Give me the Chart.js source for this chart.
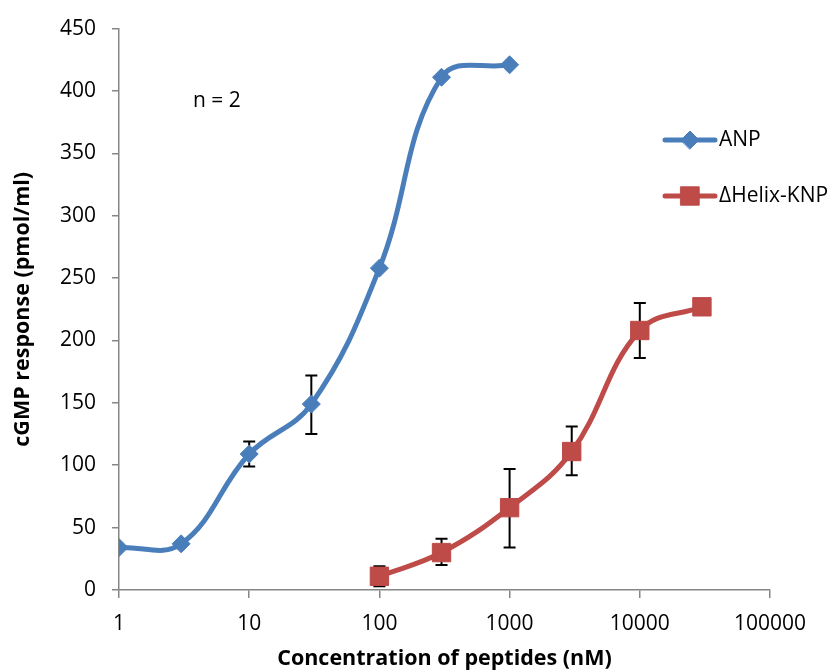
<!DOCTYPE html>
<html>
<head>
<meta charset="utf-8">
<script src="https://cdn.jsdelivr.net/npm/chart.js@4/dist/chart.umd.min.js"></script>
<style>
  body { margin: 0; background: #fff; }
  canvas { display: block; }
</style>
</head>
<body>
<canvas id="chart" width="835" height="672"></canvas>
<script>
var FONT = "'Open Sans', Lato, sans-serif";

// ANP
var anpConc = [1, 3, 10, 30, 100, 300, 1000];
var anpMean = [34, 37, 109, 149, 258, 411, 421];
var anpLow  = [null, null, 99, 125, null, null, null];
var anpHigh = [null, null, 119, 172, null, null, null];

// ΔHelix-KNP
var knpConc = [100, 300, 1000, 3000, 10000, 30000];
var knpMean = [11, 30, 66, 111, 208, 227];
var knpLow  = [3, 20, 34, 92, 186, null];
var knpHigh = [19, 41, 97, 131, 230, null];

var xTickValues = [1, 10, 100, 1000, 10000, 100000];

function toPoints(xs, ys) {
    return xs.map(function (x, i) { return { x: x, y: ys[i] }; });
}

var errorBars = [
    { low: anpLow, high: anpHigh },
    { low: knpLow, high: knpHigh }
];

var errorBarPlugin = {
    id: 'errorBars',
    beforeDatasetsDraw: function (chart) {
        var ctx = chart.ctx;
        var xs = chart.scales.x, ys = chart.scales.y;
        ctx.save();
        ctx.strokeStyle = '#000';
        ctx.lineWidth = 2;
        chart.data.datasets.forEach(function (ds, di) {
            var eb = errorBars[di];
            ds.data.forEach(function (p, i) {
                if (eb.low[i] == null) return;
                var px = xs.getPixelForValue(p.x);
                var y1 = ys.getPixelForValue(eb.low[i]);
                var y2 = ys.getPixelForValue(eb.high[i]);
                ctx.beginPath();
                ctx.moveTo(px, y1); ctx.lineTo(px, y2);
                ctx.moveTo(px - 6, y1); ctx.lineTo(px + 6, y1);
                ctx.moveTo(px - 6, y2); ctx.lineTo(px + 6, y2);
                ctx.stroke();
            });
        });
        ctx.restore();
    }
};

var legendPlugin = {
    id: 'sideLegend',
    afterDraw: function (chart) {
        var ctx = chart.ctx;
        ctx.save();
        // n = 2 note
        ctx.fillStyle = '#000';
        ctx.font = '21px ' + FONT;
        ctx.textBaseline = 'middle';
        ctx.textAlign = 'left';
        ctx.fillText('n = 2', 193, 101);

        var rows = [140, 196];
        chart.data.datasets.forEach(function (ds, i) {
            var y = rows[i];
            ctx.strokeStyle = ds.borderColor;
            ctx.lineWidth = 5;
            ctx.lineCap = 'round';
            ctx.beginPath();
            ctx.moveTo(665, y); ctx.lineTo(715, y);
            ctx.stroke();
            ctx.fillStyle = ds.backgroundColor;
            ctx.lineWidth = 1;
            Chart.helpers.drawPoint(ctx, {
                pointStyle: ds.pointStyle,
                radius: ds.pointRadius,
                borderWidth: 1
            }, 690, y);
            ctx.fillStyle = '#000';
            ctx.font = '21px ' + FONT;
            ctx.fillText(ds.label, 719, y);
        });
        ctx.restore();
    }
};

var ctx = document.querySelector('#chart').getContext('2d');
var chart = new Chart(ctx, {
    type: 'line',
    data: {
        datasets: [{
            label: 'ANP',
            data: toPoints(anpConc, anpMean),
            borderColor: '#4A7EBB',
            backgroundColor: '#4A7EBB',
            borderWidth: 5,
            pointStyle: 'rectRot',
            pointRadius: 9,
            pointBorderWidth: 1,
            tension: 0.4,
            fill: false
        }, {
            label: 'ΔHelix-KNP',
            data: toPoints(knpConc, knpMean),
            borderColor: '#BE4B48',
            backgroundColor: '#BE4B48',
            borderWidth: 5,
            pointStyle: 'rect',
            pointRadius: 13,
            pointBorderWidth: 1,
            tension: 0.4,
            fill: false
        }]
    },
    options: {
        responsive: false,
        animation: false,
        layout: { padding: { left: 10, right: 65, top: 27, bottom: 0 } },
        plugins: {
            legend: { display: false },
            tooltip: { enabled: false }
        },
        scales: {
            x: {
                type: 'logarithmic',
                min: 1,
                max: 100000,
                afterBuildTicks: function (scale) {
                    scale.ticks = xTickValues.map(function (v) { return { value: v }; });
                },
                afterFit: function (scale) { scale.height = 82; },
                grid: { display: true, drawOnChartArea: false, drawTicks: true, tickLength: 8, color: '#868686', lineWidth: 1.5 },
                border: { color: '#868686', width: 1.5 },
                ticks: {
                    color: '#000',
                    font: { family: FONT, size: 21 },
                    padding: 13,
                    maxRotation: 0,
                    autoSkip: false,
                    callback: function (v) { return String(v); }
                },
                title: {
                    display: true,
                    text: 'Concentration of peptides (nM)',
                    color: '#000',
                    font: { family: FONT, size: 21.5, weight: 'bold' },
                    padding: { top: 1, bottom: 0 }
                }
            },
            y: {
                min: 0,
                max: 450,
                afterFit: function (scale) { scale.width = 109; },
                grid: { display: true, drawOnChartArea: false, drawTicks: true, tickLength: 7, color: '#868686', lineWidth: 1.5 },
                border: { color: '#868686', width: 1.5 },
                ticks: {
                    stepSize: 50,
                    color: '#000',
                    font: { family: FONT, size: 21 },
                    padding: 16
                },
                title: {
                    display: true,
                    text: 'cGMP response (pmol/ml)',
                    color: '#000',
                    font: { family: FONT, size: 21.5, weight: 'bold' },
                    padding: { top: 0, bottom: 2 }
                }
            }
        }
    },
    plugins: [errorBarPlugin, legendPlugin]
});
</script>
</body>
</html>
